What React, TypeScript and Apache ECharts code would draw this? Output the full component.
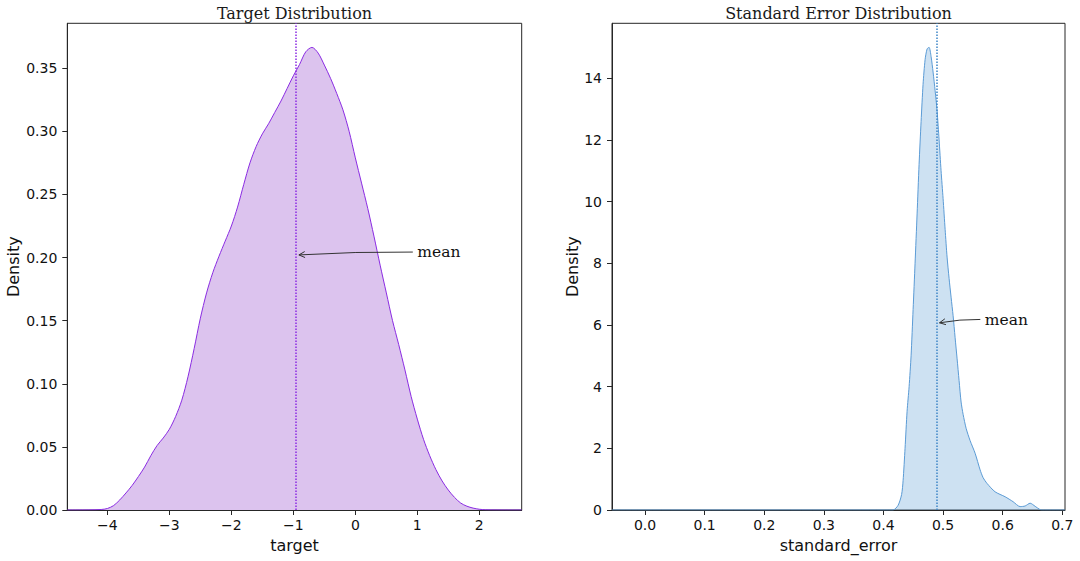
import React, { useEffect, useRef } from "react";
import * as echarts from "echarts";

// ---------- data ----------
const targetX = [-4.647, -4.3, -4.1, -4.0, -3.9, -3.8, -3.7, -3.6, -3.5, -3.4, -3.3, -3.2, -3.1, -3.0, -2.9, -2.8, -2.7, -2.6, -2.5, -2.4, -2.3, -2.2, -2.1, -2.0, -1.9, -1.8, -1.7, -1.6, -1.5, -1.4, -1.3, -1.2, -1.1, -1.0, -0.9, -0.8, -0.7, -0.6, -0.5, -0.4, -0.3, -0.2, -0.1, 0.0, 0.1, 0.2, 0.3, 0.4, 0.5, 0.6, 0.7, 0.8, 0.9, 1.0, 1.1, 1.2, 1.3, 1.4, 1.5, 1.6, 1.7, 1.8, 1.9, 2.0, 2.1, 2.3, 2.684];
const targetDensity = [0, 0.0001, 0.0004, 0.0012, 0.0035, 0.008, 0.0135, 0.0195, 0.0265, 0.034, 0.043, 0.051, 0.057, 0.064, 0.074, 0.087, 0.1055, 0.128, 0.152, 0.172, 0.188, 0.201, 0.213, 0.225, 0.24, 0.258, 0.275, 0.288, 0.298, 0.306, 0.315, 0.324, 0.334, 0.344, 0.353, 0.363, 0.3665, 0.362, 0.3525, 0.342, 0.33, 0.317, 0.3, 0.279, 0.259, 0.239, 0.217, 0.194, 0.172, 0.15, 0.131, 0.111, 0.09, 0.072, 0.056, 0.043, 0.032, 0.023, 0.0158, 0.01, 0.0055, 0.003, 0.0015, 0.0006, 0.0002, 0.00005, 0];

const seX = [-0.0554, 0.4, 0.416, 0.4245, 0.4304, 0.4329, 0.4362, 0.4396, 0.443, 0.4463, 0.4497, 0.453, 0.4564, 0.4597, 0.4631, 0.4664, 0.4698, 0.4732, 0.4765, 0.4799, 0.4832, 0.4866, 0.4899, 0.4933, 0.4966, 0.5, 0.5034, 0.5067, 0.5101, 0.5134, 0.5168, 0.5201, 0.5235, 0.5268, 0.5302, 0.5336, 0.5386, 0.5453, 0.5537, 0.5621, 0.5671, 0.5738, 0.5872, 0.604, 0.6174, 0.6292, 0.6376, 0.646, 0.6544, 0.6628, 0.6661, 0.7045];
const seDensity = [0, 0, 0, 0.15, 0.5, 0.95, 2.0, 3.2, 4.0, 5.0, 6.5, 8.0, 9.6, 11.2, 12.6, 13.8, 14.6, 14.95, 15.0, 14.7, 14.2, 13.6, 12.95, 12.0, 11.0, 10.1, 9.1, 8.2, 7.5, 6.9, 6.3, 5.6, 4.9, 4.2, 3.5, 3.1, 2.65, 2.25, 1.84, 1.3, 1.05, 0.86, 0.59, 0.43, 0.27, 0.11, 0.13, 0.22, 0.12, 0.01, 0, 0];

const targetMean = -0.959;
const seMean = 0.4915;

const targetXRange = [-4.647, 2.684];
const targetYRange = [0, 0.3856];
const seXRange = [-0.0554, 0.7045];
const seYRange = [0, 15.78];

const targetXTicks = [-4, -3, -2, -1, 0, 1, 2];
const targetYTicks = [0, 0.05, 0.1, 0.15, 0.2, 0.25, 0.3, 0.35];
const seXTicks = [0, 0.1, 0.2, 0.3, 0.4, 0.5, 0.6, 0.7];
const seYTicks = [0, 2, 4, 6, 8, 10, 12, 14];

const titles = ["Target Distribution", "Standard Error Distribution"];
const xNames = ["target", "standard_error"];
const yName = "Density";
const annoText = "mean";
// annotation: arrow tip (data) and text anchor (data, left/baseline)
const targetAnnoTip = [targetMean, 0.2021];
const targetAnnoText = [1.0, 0.2];
const seAnnoTip = [seMean, 6.07];
const seAnnoText = [0.57, 6.0];

// ---------- styles ----------
const G1 = { left: 67.3, top: 23.3, width: 454.4, height: 486.7 };
const G2 = { left: 612, top: 23.3, width: 453, height: 486.7 };
const FRAME = "#262626";
const TXT = "#111";
const SANS = "DejaVu Sans";
const SERIF = "DejaVu Serif";

const minus = (s: string) => s.replace("-", "\u2212");

function zip(xs: number[], ys: number[]) {
  return xs.map((x, i) => [x, ys[i]]);
}

function xAxisCfg(range: number[], ticks: number[], name: string, gridIndex: number, fmt: (v: number) => string) {
  return {
    type: "value",
    gridIndex,
    min: range[0],
    max: range[1],
    name,
    nameLocation: "middle",
    nameGap: 27.5,
    nameTextStyle: { fontFamily: SANS, fontSize: 16, color: TXT },
    axisLine: { show: true, onZero: false, lineStyle: { color: FRAME, width: 1 } },
    axisTick: { show: true, customValues: ticks, length: 5, lineStyle: { color: FRAME, width: 1 } },
    axisLabel: { show: true, customValues: ticks, formatter: fmt, fontFamily: SANS, fontSize: 14, color: TXT, margin: 8 },
    splitLine: { show: false },
  };
}

function yAxisCfg(range: number[], ticks: number[], gridIndex: number, fmt: (v: number) => string, gap: number) {
  return {
    type: "value",
    gridIndex,
    min: range[0],
    max: range[1],
    name: yName,
    nameLocation: "middle",
    nameGap: gap,
    nameRotate: 90,
    nameTextStyle: { fontFamily: SANS, fontSize: 16, color: TXT },
    axisLine: { show: true, onZero: false, lineStyle: { color: FRAME, width: 1 } },
    axisTick: { show: true, customValues: ticks, length: 5, lineStyle: { color: FRAME, width: 1 } },
    axisLabel: { show: true, customValues: ticks, formatter: fmt, fontFamily: SANS, fontSize: 14, color: TXT, margin: 10 },
    splitLine: { show: false },
  };
}

function arrowGraphics(tip: number[], textPos: number[]) {
  const tail = [textPos[0] - 4.5, textPos[1] - 5.5];
  const mx = (tail[0] + tip[0]) / 2;
  const my = (tail[1] + tip[1]) / 2;
  const cp = [mx, my - 2];
  let dx = tip[0] - cp[0];
  let dy = tip[1] - cp[1];
  const len = Math.hypot(dx, dy) || 1;
  dx /= len;
  dy /= len;
  const hl = 6;
  const hw = 3;
  const bx = tip[0] - dx * hl;
  const by = tip[1] - dy * hl;
  const p1 = [bx - dy * hw, by + dx * hw];
  const p2 = [bx + dy * hw, by - dx * hw];
  return [
    {
      type: "bezierCurve",
      silent: true,
      z: 100,
      shape: { x1: tail[0], y1: tail[1], x2: tip[0], y2: tip[1], cpx1: cp[0], cpy1: cp[1] },
      style: { stroke: "#333", lineWidth: 1, fill: null },
    },
    {
      type: "polyline",
      silent: true,
      z: 100,
      shape: { points: [p1, tip, p2] },
      style: { stroke: "#333", lineWidth: 1, fill: null },
    },
    {
      type: "text",
      silent: true,
      z: 100,
      x: textPos[0],
      y: textPos[1] - 5.3,
      style: { text: annoText, font: `15.5px "${SERIF}"`, fill: "#111", textAlign: "left", textVerticalAlign: "middle" },
    },
  ];
}

export default function App() {
  const ref = useRef<HTMLDivElement>(null);

  useEffect(() => {
    if (!ref.current) return;
    const chart = echarts.init(ref.current, null, { renderer: "svg" });
    const option: any = {
      animation: false,
      backgroundColor: "#fff",
      grid: [
        { ...G1, show: true, borderColor: FRAME, borderWidth: 1, backgroundColor: "transparent", containLabel: false },
        { ...G2, show: true, borderColor: FRAME, borderWidth: 1, backgroundColor: "transparent", containLabel: false },
      ],
      xAxis: [
        xAxisCfg(targetXRange, targetXTicks, xNames[0], 0, (v: number) => minus(String(v))),
        xAxisCfg(seXRange, seXTicks, xNames[1], 1, (v: number) => v.toFixed(1)),
      ],
      yAxis: [
        yAxisCfg(targetYRange, targetYTicks, 0, (v: number) => v.toFixed(2), 45.5),
        yAxisCfg(seYRange, seYTicks, 1, (v: number) => String(Math.round(v)), 30.5),
      ],
      series: [
        {
          type: "line",
          xAxisIndex: 0,
          yAxisIndex: 0,
          data: zip(targetX, targetDensity),
          showSymbol: false,
          smooth: 0.3,
          lineStyle: { color: "#8a2be2", width: 1 },
          areaStyle: { color: "#dcc3ee", opacity: 1 },
          markLine: {
            silent: true,
            symbol: ["none", "none"],
            label: { show: false },
            lineStyle: { type: "dotted", color: "#8a2be2", width: 1.5 },
            data: [{ xAxis: targetMean }],
          },
          z: 2,
        },
        {
          type: "line",
          xAxisIndex: 1,
          yAxisIndex: 1,
          data: zip(seX, seDensity),
          showSymbol: false,
          smooth: 0.25,
          lineStyle: { color: "#5b9bd5", width: 1 },
          areaStyle: { color: "#5b9bd5", opacity: 0.3 },
          markLine: {
            silent: true,
            symbol: ["none", "none"],
            label: { show: false },
            lineStyle: { type: "dotted", color: "#3d85c6", width: 1.5 },
            data: [{ xAxis: seMean }],
          },
          z: 2,
        },
      ],
    };
    chart.setOption(option);

    const tip1 = chart.convertToPixel({ gridIndex: 0 }, targetAnnoTip) as number[];
    const txt1 = chart.convertToPixel({ gridIndex: 0 }, targetAnnoText) as number[];
    const tip2 = chart.convertToPixel({ gridIndex: 1 }, seAnnoTip) as number[];
    const txt2 = chart.convertToPixel({ gridIndex: 1 }, seAnnoText) as number[];
    tip1[0] += 3;
    tip2[0] += 1.5;

    const titleGraphics = [G1, G2].map((g, i) => ({
      type: "text",
      silent: true,
      z: 100,
      x: g.left + g.width / 2,
      y: g.top - 10,
      style: { text: titles[i], font: `16px "${SERIF}"`, fill: "#1a1a1a", textAlign: "center", textVerticalAlign: "middle" },
    }));

    chart.setOption({
      graphic: [...titleGraphics, ...arrowGraphics(tip1, txt1), ...arrowGraphics(tip2, txt2)],
    });

    return () => chart.dispose();
  }, []);

  return (
    <div
      ref={ref}
      style={{ position: "fixed", left: 0, top: 0, width: 1080, height: 561, background: "#fff" }}
    />
  );
}
